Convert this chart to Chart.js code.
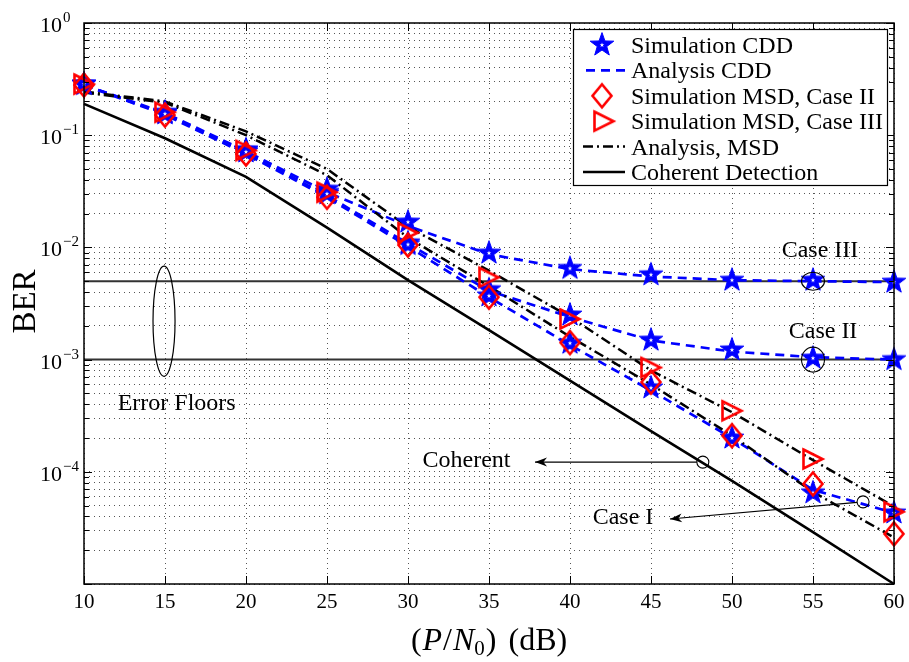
<!DOCTYPE html>
<html><head><meta charset="utf-8">
<script src="https://cdn.jsdelivr.net/npm/chart.js@4.4.0/dist/chart.umd.min.js"></script>
<style>html,body{margin:0;padding:0;background:#fff;}#wrap{width:909px;height:662px;}</style>
</head><body><div id="wrap"><canvas id="c" width="909" height="662"></canvas></div>
<script>
// ---------------- data ----------------
const snrDb = [10, 15, 20, 25, 30, 35, 40, 45, 50, 55, 60];
const coherent     = [0.19, 0.094, 0.0425, 0.0150, 0.0051, 0.00183, 6.5e-4, 2.3e-4, 8.3e-5, 2.9e-5, 1.0e-5];
const cddSimCase1  = [0.285, 0.155, 0.071, 0.030, 0.0106, 0.0037, 0.0014, 5.6e-4, 2.0e-4, 6.5e-5, 4.3e-5];
const cddSimCase2  = [0.285, 0.158, 0.073, 0.031, 0.0110, 0.0042, 0.0025, 0.00149, 0.00122, 0.00103, 0.0010];
const cddSimCase3  = [0.285, 0.160, 0.074, 0.033, 0.0168, 0.0089, 0.0065, 0.0057, 0.0051, 0.0051, 0.0049];
const cddAnaCase1  = [0.280, 0.152, 0.068, 0.028, 0.0102, 0.0036, 0.00135, 5.3e-4, 2.0e-4, 6.9e-5, 4.3e-5];
const cddAnaCase2  = [0.280, 0.155, 0.070, 0.029, 0.0108, 0.0041, 0.0024, 0.00148, 0.00118, 0.00105, 0.0010];
const cddAnaCase3  = [0.280, 0.158, 0.072, 0.031, 0.0155, 0.0087, 0.0064, 0.0055, 0.0051, 0.0050, 0.0049];
const msdSimCase2  = [0.280, 0.151, 0.068, 0.028, 0.0105, 0.0036, 0.00142, 6.3e-4, 2.1e-4, 7.8e-5, 2.8e-5];
const msdSimCase3  = [0.285, 0.160, 0.073, 0.031, 0.0135, 0.0054, 0.0023, 8.5e-4, 3.5e-4, 1.3e-4, 4.4e-5];
const msdAnaCase2  = [0.240, 0.195, 0.100, 0.044, 0.0122, 0.0045, 0.0016, 6.0e-4, 2.1e-4, 6.6e-5, 2.6e-5];
const msdAnaCase3  = [0.245, 0.200, 0.108, 0.050, 0.0152, 0.0062, 0.0024, 8.0e-4, 3.4e-4, 1.27e-4, 4.9e-5];
const errorFloorCase3 = 5e-3;
const errorFloorCase2 = 1e-3;

const xTickValues = [10, 15, 20, 25, 30, 35, 40, 45, 50, 55, 60];
const yLabelExponents = [0, -1, -2, -3, -4];
const yDecadeExponents = [-5, -4, -3, -2, -1, 0];
const legendLabels = ['Simulation CDD', 'Analysis CDD', 'Simulation MSD, Case II',
                      'Simulation MSD, Case III', 'Analysis, MSD', 'Coherent Detection'];
const annotationTexts = [
  {text: 'Case III', x: 55.43, y: 9.68e-3},
  {text: 'Case II', x: 55.62, y: 1.85e-3},
  {text: 'Error Floors', x: 15.72, y: 4.19e-4},
  {text: 'Coherent', x: 33.61, y: 1.30e-4},
  {text: 'Case I', x: 43.27, y: 4.04e-5}
];
const floorEllipse = {x1: 14.26, x2: 15.62, y1: 7.1e-4, y2: 6.8e-3};
const caseCircles = [{x: 55, y: 5e-3, rx: 11.5, ry: 9}, {x: 55, y: 1e-3, rx: 11.5, ry: 12.5}];
const arrows = [
  {fromX: 48.2, fromY: 1.22e-4, toX: 37.84, toY: 1.22e-4},
  {fromX: 58.09, fromY: 5.4e-5, toX: 46.17, toY: 3.8e-5}
];

// ---------------- styling helpers ----------------
const SERIF = '"Liberation Serif", "Times New Roman", serif';
const BLUE = '#0000ff', RED = '#ff0000';

function mk(w, h, draw) {
  const c = document.createElement('canvas'); c.width = w; c.height = h;
  draw(c.getContext('2d'), w, h); return c;
}
function starPath(g, cx, cy, R, r) {
  g.beginPath();
  for (let i = 0; i < 10; i++) {
    const a = -Math.PI / 2 + i * Math.PI / 5, rr = i % 2 ? r : R;
    g.lineTo(cx + rr * Math.cos(a), cy + rr * Math.sin(a));
  }
  g.closePath();
}
const starImg = mk(28, 28, (g, w, h) => {
  starPath(g, w / 2, h / 2, 12.4, 5.0);
  g.fillStyle = BLUE; g.fill(); g.strokeStyle = BLUE; g.lineWidth = 1; g.stroke();
  starPath(g, w / 2, h / 2, 2.4, 1.0); g.fillStyle = '#fff'; g.fill();
});
const diamondImg = mk(26, 30, (g, w, h) => {
  const cx = w / 2, cy = h / 2;
  g.beginPath(); g.moveTo(cx, cy - 11.5); g.lineTo(cx + 9.5, cy); g.lineTo(cx, cy + 11.5); g.lineTo(cx - 9.5, cy); g.closePath();
  g.strokeStyle = RED; g.lineWidth = 2.6; g.lineJoin = 'miter'; g.stroke();
});
const triImg = mk(28, 26, (g, w, h) => {
  const cx = w / 2, cy = h / 2;
  g.beginPath(); g.moveTo(cx - 9.5, cy - 9.5); g.lineTo(cx + 9.5, cy); g.lineTo(cx - 9.5, cy + 9.5); g.closePath();
  g.strokeStyle = RED; g.lineWidth = 2.6; g.lineJoin = 'miter'; g.stroke();
});

const pts = arr => snrDb.map((x, i) => ({x, y: arr[i]}));
const flat = v => [{x: snrDb[0], y: v}, {x: snrDb[snrDb.length - 1], y: v}];

const dashBlue = [9, 6], dashDot = [10, 4, 2, 4];
function lineDs(data, color, width, dash, order) {
  return {data, showLine: true, borderColor: color, borderWidth: width, borderDash: dash,
          pointRadius: 0, fill: false, order, clip: false, tension: 0};
}
function markDs(data, img, order) {
  return {data, showLine: false, pointStyle: img, pointRadius: 10, order, clip: false};
}

const datasets = [
  lineDs(flat(errorFloorCase3), '#333333', 2, [], 100),
  lineDs(flat(errorFloorCase2), '#333333', 2, [], 100),
  lineDs(pts(coherent), '#000', 2.6, [], 90),
  lineDs(pts(cddAnaCase1), BLUE, 2.7, dashBlue, 80),
  lineDs(pts(cddAnaCase2), BLUE, 2.7, dashBlue, 80),
  lineDs(pts(cddAnaCase3), BLUE, 2.7, dashBlue, 80),
  lineDs(pts(msdAnaCase2), '#000', 2.5, dashDot, 70),
  lineDs(pts(msdAnaCase3), '#000', 2.5, dashDot, 70),
  markDs(pts(cddSimCase1), starImg, 60),
  markDs(pts(cddSimCase2), starImg, 60),
  markDs(pts(cddSimCase3), starImg, 60),
  markDs(pts(msdSimCase2), diamondImg, 50),
  markDs(pts(msdSimCase3), triImg, 50)
];

const yGridValues = [];
for (let e = -5; e <= -1; e++) for (let k = 1; k <= 9; k++) yGridValues.push(Number((k * Math.pow(10, e)).toPrecision(3)));
yGridValues.push(1);

// ---------------- decoration plugin ----------------
const decor = {
  id: 'decor',
  afterDatasetsDraw(chart) {
    const ctx = chart.ctx, xs = chart.scales.x, ys = chart.scales.y;
    const X = v => xs.getPixelForValue(v), Y = v => ys.getPixelForValue(v);
    ctx.save();
    ctx.strokeStyle = '#000'; ctx.fillStyle = '#000'; ctx.lineWidth = 1.2;
    const ex1 = X(floorEllipse.x1), ex2 = X(floorEllipse.x2), ey1 = Y(floorEllipse.y1), ey2 = Y(floorEllipse.y2);
    ctx.beginPath(); ctx.ellipse((ex1 + ex2) / 2, (ey1 + ey2) / 2, Math.abs(ex2 - ex1) / 2, Math.abs(ey1 - ey2) / 2, 0, 0, Math.PI * 2); ctx.stroke();
    ctx.lineWidth = 1.1;
    caseCircles.forEach(c => { ctx.beginPath(); ctx.ellipse(X(c.x), Y(c.y), c.rx, c.ry, 0, 0, Math.PI * 2); ctx.stroke(); });
    arrows.forEach(a => {
      const x0 = X(a.fromX), y0 = Y(a.fromY), x1 = X(a.toX), y1 = Y(a.toY);
      const ang = Math.atan2(y1 - y0, x1 - x0), r = 6;
      ctx.lineWidth = 1.1;
      ctx.beginPath(); ctx.arc(x0, y0, r, 0, Math.PI * 2); ctx.stroke();
      ctx.beginPath(); ctx.moveTo(x0 + r * Math.cos(ang), y0 + r * Math.sin(ang)); ctx.lineTo(x1, y1); ctx.stroke();
      const L = 12, W = 4.5;
      const bx = x1 - L * Math.cos(ang), by = y1 - L * Math.sin(ang);
      const nx = -Math.sin(ang), ny = Math.cos(ang);
      const mx = x1 - 0.7 * L * Math.cos(ang), my = y1 - 0.7 * L * Math.sin(ang);
      ctx.beginPath(); ctx.moveTo(x1, y1); ctx.lineTo(bx + nx * W, by + ny * W); ctx.lineTo(mx, my); ctx.lineTo(bx - nx * W, by - ny * W); ctx.closePath(); ctx.fill();
    });
    ctx.font = '24px ' + SERIF; ctx.textAlign = 'center'; ctx.textBaseline = 'alphabetic';
    annotationTexts.forEach(t => ctx.fillText(t.text, X(t.x), Y(t.y) + 8));
    ctx.restore();
  },
  afterDraw(chart) {
    const ctx = chart.ctx, xs = chart.scales.x, ys = chart.scales.y, ca = chart.chartArea;
    const X = v => xs.getPixelForValue(v), Y = v => ys.getPixelForValue(v);
    ctx.save();
    ctx.strokeStyle = '#000'; ctx.lineWidth = 1.5;
    ctx.strokeRect(ca.left, ca.top, ca.right - ca.left, ca.bottom - ca.top);
    ctx.lineWidth = 1;
    ctx.beginPath();
    xTickValues.forEach(v => { const px = Math.round(X(v)) + 0.5;
      ctx.moveTo(px, ca.bottom); ctx.lineTo(px, ca.bottom - 8);
      ctx.moveTo(px, ca.top); ctx.lineTo(px, ca.top + 8); });
    yGridValues.forEach(v => { const py = Math.round(Y(v)) + 0.5;
      const major = yDecadeExponents.some(e => Math.abs(Math.pow(10, e) - v) / v < 1e-6);
      const len = major ? 8 : 5;
      ctx.moveTo(ca.left, py); ctx.lineTo(ca.left + len, py);
      ctx.moveTo(ca.right, py); ctx.lineTo(ca.right - len, py); });
    ctx.stroke();
    ctx.fillStyle = '#000';
    ctx.font = '21px ' + SERIF; ctx.textAlign = 'center'; ctx.textBaseline = 'alphabetic';
    xTickValues.forEach(v => ctx.fillText(String(v), X(v), ca.bottom + 24));
    yLabelExponents.forEach(e => {
      const py = Y(Math.pow(10, e));
      ctx.font = '22px ' + SERIF; ctx.textAlign = 'right';
      ctx.fillText('10', ca.left - 22, py + 9);
      ctx.font = '15px ' + SERIF; ctx.textAlign = 'left';
      ctx.fillText(e === 0 ? '0' : '\u2212' + Math.abs(e), ca.left - 21, py - 1);
    });
    ctx.save();
    ctx.translate(35, (ca.top + ca.bottom) / 2 - 2);
    ctx.rotate(-Math.PI / 2);
    ctx.font = '33px ' + SERIF; ctx.textAlign = 'center'; ctx.textBaseline = 'alphabetic';
    ctx.fillText('BER', 0, 0);
    ctx.restore();
    const segs = [
      {t: '(', f: '32px ' + SERIF, dy: 0, gap: 1},
      {t: 'P', f: 'italic 32px ' + SERIF, dy: 0, gap: 1},
      {t: '/', f: '32px ' + SERIF, dy: 0, gap: 1},
      {t: 'N', f: 'italic 32px ' + SERIF, dy: 0, gap: 0},
      {t: '0', f: '21px ' + SERIF, dy: 5, gap: 1},
      {t: ')', f: '32px ' + SERIF, dy: 0, gap: 12},
      {t: '(dB)', f: '32px ' + SERIF, dy: 0, gap: 0}
    ];
    let total = 0;
    segs.forEach(s => { ctx.font = s.f; s.w = ctx.measureText(s.t).width; total += s.w + s.gap; });
    let cx = (ca.left + ca.right) / 2 - total / 2;
    ctx.textAlign = 'left';
    segs.forEach(s => { ctx.font = s.f; ctx.fillText(s.t, cx, 650 + s.dy); cx += s.w + s.gap; });

    const lx = ca.right - 321, ly = ca.top + 6, lw = 314, lh = 156;
    ctx.fillStyle = '#fff'; ctx.fillRect(lx, ly, lw, lh);
    ctx.strokeStyle = '#000'; ctx.lineWidth = 1.2; ctx.strokeRect(lx + 0.5, ly + 0.5, lw, lh);
    const symX = lx + 29, l1 = lx + 10, l2 = lx + 52, tx = lx + 58;
    legendLabels.forEach((lab, i) => {
      const ry = ly + 16 + i * 25.4;
      ctx.setLineDash([]);
      if (i === 0) ctx.drawImage(starImg, symX - starImg.width / 2, ry - starImg.height / 2);
      if (i === 2) ctx.drawImage(diamondImg, symX - diamondImg.width / 2, ry - diamondImg.height / 2);
      if (i === 3) ctx.drawImage(triImg, symX + 2 - triImg.width / 2, ry - triImg.height / 2);
      if (i === 1) { ctx.strokeStyle = BLUE; ctx.lineWidth = 2.7; ctx.setLineDash(dashBlue);
        ctx.beginPath(); ctx.moveTo(l1 + 3, ry); ctx.lineTo(l2, ry); ctx.stroke(); }
      if (i === 4) { ctx.strokeStyle = '#000'; ctx.lineWidth = 2.5; ctx.setLineDash(dashDot);
        ctx.beginPath(); ctx.moveTo(l1, ry); ctx.lineTo(l2, ry); ctx.stroke(); }
      if (i === 5) { ctx.strokeStyle = '#000'; ctx.lineWidth = 2.6;
        ctx.beginPath(); ctx.moveTo(l1, ry); ctx.lineTo(l2, ry); ctx.stroke(); }
      ctx.setLineDash([]);
      ctx.fillStyle = '#000'; ctx.font = '24px ' + SERIF; ctx.textAlign = 'left'; ctx.textBaseline = 'alphabetic';
      ctx.fillText(lab, tx, ry + 8);
    });
    ctx.restore();
  }
};

new Chart(document.getElementById('c'), {
  type: 'scatter',
  data: {datasets},
  options: {
    responsive: false, animation: false, devicePixelRatio: 1,
    layout: {padding: {left: 0, top: 23, right: 15, bottom: 0}},
    plugins: {legend: {display: false}, tooltip: {enabled: false}},
    scales: {
      x: {type: 'linear', min: 10, max: 60,
          ticks: {display: false, stepSize: 5},
          afterBuildTicks: s => { s.ticks = xTickValues.map(v => ({value: v})); },
          afterFit: s => { s.height = 662 - 584; },
          grid: {color: '#555555', lineWidth: 1, drawTicks: false},
          border: {display: false, dash: [1, 4]}},
      y: {type: 'logarithmic', min: 1e-5, max: 1,
          ticks: {display: false},
          afterBuildTicks: s => { s.ticks = yGridValues.map(v => ({value: v})); },
          afterFit: s => { s.width = 84; },
          grid: {color: '#555555', lineWidth: 1, drawTicks: false},
          border: {display: false, dash: [1, 4]}}
    }
  },
  plugins: [decor]
});
</script></body></html>
